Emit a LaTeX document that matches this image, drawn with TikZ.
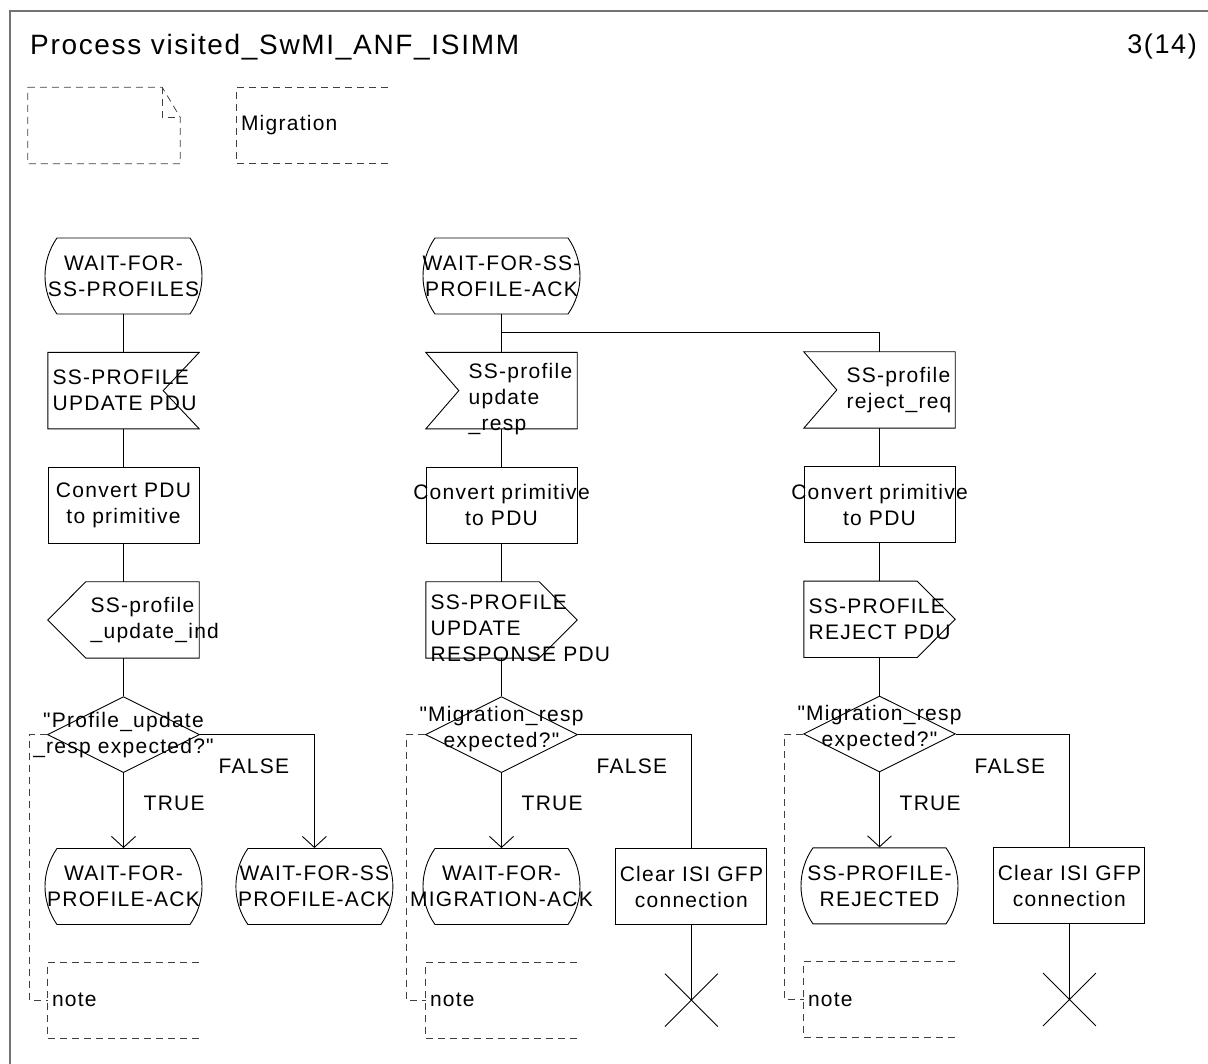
\documentclass[tikz,border=0pt]{standalone}
\usepackage{fontspec}
\setmainfont{Liberation Sans}[LetterSpace=6, Ligatures=TeXOff]
\usetikzlibrary{positioning,shapes.geometric,shapes.misc,arrows.meta}

\begin{document}
\begin{tikzpicture}[x=1pt, y=-1pt,
  node distance=38pt and 38pt,
  every node/.style={font=\fontsize{21}{26}\selectfont, inner sep=0pt},
  flow/.style={line width=0.9pt},
  sdlstate/.style={draw, flow, rounded rectangle, rounded rectangle arc length=70, minimum width=157pt, minimum height=76pt},
  sdltask/.style={draw, flow, rectangle, minimum width=151pt, minimum height=76pt},
  sdlsig/.style={rectangle, minimum width=151pt, minimum height=76pt},
  sdldec/.style={draw, flow, diamond, minimum width=152pt, minimum height=76pt},
  sdlstop/.style={draw, flow, cross out, minimum size=52pt},
  notebox/.style={minimum height=76pt, text width=143pt, inner xsep=4pt, align=left},
  comment/.style={dash pattern=on 7pt off 5pt, line width=0.8pt, black!75},
  arr/.style={flow, -{Straight Barb[length=11pt, width=24pt]}},
  lbl/.style={align=center},
  lbll/.style={align=left, anchor=west}
]
\useasboundingbox (0,0) rectangle (1208,1064);
\draw[line width=1.5pt, black!55] (10,1080) -- (10,11) -- (1220,11);

% heading
\node[anchor=west, font=\fontsize{28}{32}\selectfont] (title) at (30,47) {Process visited\_SwMI\_ANF\_ISIMM};
\node[anchor=east, font=\fontsize{27}{30}\selectfont] (page) at (1197,47) {3(14)};

\node[notebox, text width=144pt] (txt) at (104,125.5) {};
\draw[comment] (txt.north west) -- ([xshift=-18pt]txt.north east) -- ([yshift=-30pt]txt.north east) -- (txt.south east) -- (txt.south west) -- cycle;
\draw[comment] ([xshift=-18pt]txt.north east) |- ([yshift=-30pt]txt.north east);
\node[notebox] (mig) at (312.5,125.5) {Migration};
\draw[comment] (mig.north east) -- (mig.north west) -- (mig.south west) -- (mig.south east);

% first column
\node[sdlstate] (s1) at (123.5,276) {};
\node[sdlsig, below=of s1] (i1) {};
\draw[flow] (i1.north west) -- (i1.north east) -- ([xshift=-36pt]i1.east) -- (i1.south east) -- (i1.south west) -- cycle;
\node[sdltask, below=of i1] (t1) {};
\node[sdlsig, below=of t1] (o1) {};
\draw[flow] (o1.north east) -- ([xshift=38pt]o1.north west) -- (o1.west) -- ([xshift=38pt]o1.south west) -- (o1.south east) -- cycle;
\node[sdldec, below=of o1] (d1) {};
\node[sdlstate, below=75pt of d1] (s1a) {};
\node[sdlstate, right=33pt of s1a] (s1b) {};
\node[notebox, below=37pt of s1a] (n1) {note};

\node[lbl] (s1t) at (s1) {WAIT-FOR-\\SS-PROFILES};
\node[lbll] (i1t) at ([xshift=-71pt]i1.center) {SS-PROFILE\\UPDATE PDU};
\node[lbl] (t1t) at (t1) {Convert PDU\\to primitive};
\node[lbll] (o1t) at ([xshift=-33pt]o1.center) {SS-profile\\\_update\_ind};
\node[lbl] (d1t) at (d1) {"Profile\_update\\\_resp expected?"};
\node[lbll] (tr1) at ([xshift=20pt, yshift=-69pt]d1.center) {TRUE};
\node[lbll] (fa1) at ([xshift=95pt, yshift=-32pt]d1.center) {FALSE};
\node[lbl] (s1at) at (s1a) {WAIT-FOR-\\PROFILE-ACK};
\node[lbl] (s1bt) at (s1b) {WAIT-FOR-SS\\PROFILE-ACK};

\draw[flow] (s1) -- (i1);
\draw[flow] (i1) -- (t1);
\draw[flow] (t1) -- (o1);
\draw[flow] (o1) -- (d1);
\draw[arr] (d1) -- (s1a);
\draw[arr] (d1.east) -| (s1b);
\draw[comment] (d1.west) -- ++(-18,0) |- (n1.west);
\draw[comment] (n1.north east) -- (n1.north west) -- (n1.south west) -- (n1.south east);

% second column
\node[sdlstate] (s2) at (501.5,276) {};
\coordinate[below=18pt of s2] (br);
\node[sdlsig, below=of s2] (i2) {};
\draw[flow] (i2.north west) -- (i2.north east) -- (i2.south east) -- (i2.south west) -- ([xshift=33pt]i2.west) -- cycle;
\node[sdltask, below=of i2] (t2) {};
\node[sdlsig, below=of t2] (o2) {};
\draw[flow] (o2.north west) -- ([xshift=-38pt]o2.north east) -- (o2.east) -- ([xshift=-38pt]o2.south east) -- (o2.south west) -- cycle;
\node[sdldec, below=of o2] (d2) {};
\node[sdlstate, below=75pt of d2] (s2a) {};
\node[sdltask, right=35pt of s2a] (t2b) {};
\node[notebox, below=37pt of s2a] (n2) {note};
\node[sdlstop] (x2) at (t2b |- n2) {};

\node[lbl] (s2t) at (s2) {WAIT-FOR-SS-\\PROFILE-ACK};
\node[lbll] (i2t) at ([xshift=-33pt, yshift=-8pt]i2.center) {SS-profile\\update\\\_resp};
\node[lbl] (t2t) at (t2) {Convert primitive\\to PDU};
\node[lbll] (o2t) at ([xshift=-71pt, yshift=-8pt]o2.center) {SS-PROFILE\\UPDATE\\RESPONSE PDU};
\node[lbl] (d2t) at ([yshift=6pt]d2.center) {"Migration\_resp\\expected?"};
\node[lbll] (tr2) at ([xshift=20pt, yshift=-69pt]d2.center) {TRUE};
\node[lbll] (fa2) at ([xshift=95pt, yshift=-32pt]d2.center) {FALSE};
\node[lbl] (s2at) at (s2a) {WAIT-FOR-\\MIGRATION-ACK};
\node[lbl] (t2bt) at (t2b) {Clear ISI GFP\\connection};

\draw[flow] (s2) -- (i2);
\draw[flow] (i2) -- (t2);
\draw[flow] (t2) -- (o2);
\draw[flow] (o2) -- (d2);
\draw[arr] (d2) -- (s2a);
\draw[flow] (d2.east) -| (t2b);
\draw[flow] (t2b) -- (x2.center);
\draw[comment] (d2.west) -- ++(-19,0) |- (n2.west);
\draw[comment] (n2.north east) -- (n2.north west) -- (n2.south west) -- (n2.south east);

% third column
\node[sdlsig] (i3) at (879.5,390) {};
\draw[flow] (i3.north west) -- (i3.north east) -- (i3.south east) -- (i3.south west) -- ([xshift=33pt]i3.west) -- cycle;
\node[sdltask, below=of i3] (t3) {};
\node[sdlsig, below=of t3] (o3) {};
\draw[flow] (o3.north west) -- ([xshift=-38pt]o3.north east) -- (o3.east) -- ([xshift=-38pt]o3.south east) -- (o3.south west) -- cycle;
\node[sdldec, below=of o3] (d3) {};
\node[sdlstate, below=75pt of d3] (s3a) {};
\node[sdltask, right=35pt of s3a] (t3b) {};
\node[notebox, below=37pt of s3a] (n3) {note};
\node[sdlstop] (x3) at (t3b |- n3) {};

\node[lbll] (i3t) at ([xshift=-33pt]i3.center) {SS-profile\\reject\_req};
\node[lbl] (t3t) at (t3) {Convert primitive\\to PDU};
\node[lbll] (o3t) at ([xshift=-71pt]o3.center) {SS-PROFILE\\REJECT PDU};
\node[lbl] (d3t) at ([yshift=6pt]d3.center) {"Migration\_resp\\expected?"};
\node[lbll] (tr3) at ([xshift=20pt, yshift=-69pt]d3.center) {TRUE};
\node[lbll] (fa3) at ([xshift=95pt, yshift=-32pt]d3.center) {FALSE};
\node[lbl] (s3at) at (s3a) {SS-PROFILE-\\REJECTED};
\node[lbl] (t3bt) at (t3b) {Clear ISI GFP\\connection};

\draw[flow] (br) -| (i3);
\draw[flow] (i3) -- (t3);
\draw[flow] (t3) -- (o3);
\draw[flow] (o3) -- (d3);
\draw[arr] (d3) -- (s3a);
\draw[flow] (d3.east) -| (t3b);
\draw[flow] (t3b) -- (x3.center);
\draw[comment] (d3.west) -- ++(-19,0) |- (n3.west);
\draw[comment] (n3.north east) -- (n3.north west) -- (n3.south west) -- (n3.south east);
\end{tikzpicture}
\end{document}
